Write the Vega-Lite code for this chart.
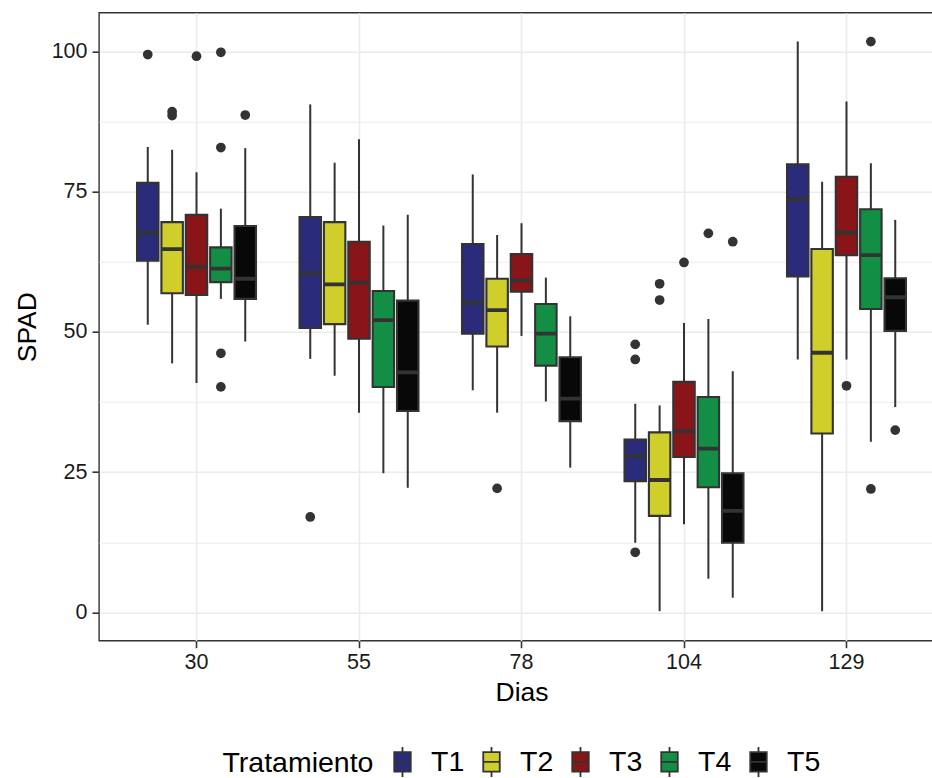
{
  "$schema": "https://vega.github.io/schema/vega-lite/v6.json",
  "width": 845,
  "height": 628,
  "autosize": {"type": "none"},
  "padding": {"left": 99, "top": 12.7, "right": 0, "bottom": 137},
  "background": "white",
  "config": {
    "font": "Liberation Sans",
    "view": {"stroke": "#333333", "strokeWidth": 1.4},
    "axis": {
      "domain": false,
      "tickColor": "#333333",
      "tickWidth": 1.6,
      "tickSize": 7,
      "labelColor": "#1a1a1a",
      "labelFont": "Liberation Sans",
      "labelFontSize": 21.5,
      "titleFont": "Liberation Sans",
      "titleFontSize": 26.5,
      "titleFontWeight": "normal",
      "titleColor": "#000000",
      "gridColor": "#EBEBEB"
    },
    "legend": {
      "labelFont": "Liberation Sans",
      "titleFont": "Liberation Sans"
    }
  },
  "datasets": {
    "boxes": [
      {"Dias": "30", "Tratamiento": "T1", "lower": 51.3, "q1": 62.7, "median": 67.7, "q3": 76.6, "upper": 83.0},
      {"Dias": "30", "Tratamiento": "T2", "lower": 44.4, "q1": 56.9, "median": 64.8, "q3": 69.6, "upper": 82.5},
      {"Dias": "30", "Tratamiento": "T3", "lower": 40.9, "q1": 56.6, "median": 61.6, "q3": 70.9, "upper": 78.5},
      {"Dias": "30", "Tratamiento": "T4", "lower": 55.9, "q1": 58.9, "median": 61.3, "q3": 65.1, "upper": 72.0},
      {"Dias": "30", "Tratamiento": "T5", "lower": 48.3, "q1": 55.9, "median": 59.5, "q3": 68.9, "upper": 82.8},
      {"Dias": "55", "Tratamiento": "T1", "lower": 45.2, "q1": 50.7, "median": 60.5, "q3": 70.5, "upper": 90.6},
      {"Dias": "55", "Tratamiento": "T2", "lower": 42.2, "q1": 51.4, "median": 58.5, "q3": 69.6, "upper": 80.2},
      {"Dias": "55", "Tratamiento": "T3", "lower": 35.6, "q1": 48.8, "median": 58.8, "q3": 66.1, "upper": 84.4},
      {"Dias": "55", "Tratamiento": "T4", "lower": 24.8, "q1": 40.2, "median": 52.1, "q3": 57.3, "upper": 69.0},
      {"Dias": "55", "Tratamiento": "T5", "lower": 22.2, "q1": 35.9, "median": 42.8, "q3": 55.6, "upper": 70.9},
      {"Dias": "78", "Tratamiento": "T1", "lower": 39.6, "q1": 49.7, "median": 55.2, "q3": 65.7, "upper": 78.1},
      {"Dias": "78", "Tratamiento": "T2", "lower": 35.6, "q1": 47.4, "median": 53.9, "q3": 59.5, "upper": 67.3},
      {"Dias": "78", "Tratamiento": "T3", "lower": 49.3, "q1": 57.2, "median": 59.2, "q3": 63.9, "upper": 69.4},
      {"Dias": "78", "Tratamiento": "T4", "lower": 37.6, "q1": 44.0, "median": 49.7, "q3": 55.0, "upper": 59.7},
      {"Dias": "78", "Tratamiento": "T5", "lower": 25.8, "q1": 34.1, "median": 38.1, "q3": 45.5, "upper": 52.8},
      {"Dias": "104", "Tratamiento": "T1", "lower": 12.4, "q1": 23.4, "median": 27.9, "q3": 30.8, "upper": 37.2},
      {"Dias": "104", "Tratamiento": "T2", "lower": 0.2, "q1": 17.2, "median": 23.6, "q3": 32.1, "upper": 36.9},
      {"Dias": "104", "Tratamiento": "T3", "lower": 15.7, "q1": 27.7, "median": 32.3, "q3": 41.1, "upper": 51.6},
      {"Dias": "104", "Tratamiento": "T4", "lower": 6.0, "q1": 22.3, "median": 29.2, "q3": 38.4, "upper": 52.3},
      {"Dias": "104", "Tratamiento": "T5", "lower": 2.6, "q1": 12.4, "median": 18.1, "q3": 24.8, "upper": 43.0},
      {"Dias": "129", "Tratamiento": "T1", "lower": 45.1, "q1": 59.9, "median": 73.7, "q3": 79.9, "upper": 101.8},
      {"Dias": "129", "Tratamiento": "T2", "lower": 0.2, "q1": 31.9, "median": 46.3, "q3": 64.8, "upper": 76.8},
      {"Dias": "129", "Tratamiento": "T3", "lower": 45.1, "q1": 63.7, "median": 67.7, "q3": 77.7, "upper": 91.1},
      {"Dias": "129", "Tratamiento": "T4", "lower": 30.4, "q1": 54.1, "median": 63.7, "q3": 71.9, "upper": 80.1},
      {"Dias": "129", "Tratamiento": "T5", "lower": 36.6, "q1": 50.2, "median": 56.2, "q3": 59.6, "upper": 70.0}
    ],
    "outliers": [
      {"Dias": "30", "Tratamiento": "T1", "SPAD": 99.5},
      {"Dias": "30", "Tratamiento": "T2", "SPAD": 89.3},
      {"Dias": "30", "Tratamiento": "T2", "SPAD": 88.6},
      {"Dias": "30", "Tratamiento": "T3", "SPAD": 99.2},
      {"Dias": "30", "Tratamiento": "T4", "SPAD": 99.9},
      {"Dias": "30", "Tratamiento": "T4", "SPAD": 82.9},
      {"Dias": "30", "Tratamiento": "T4", "SPAD": 46.2},
      {"Dias": "30", "Tratamiento": "T4", "SPAD": 40.2},
      {"Dias": "30", "Tratamiento": "T5", "SPAD": 88.7},
      {"Dias": "55", "Tratamiento": "T1", "SPAD": 17.0},
      {"Dias": "78", "Tratamiento": "T2", "SPAD": 22.1},
      {"Dias": "104", "Tratamiento": "T1", "SPAD": 47.8},
      {"Dias": "104", "Tratamiento": "T1", "SPAD": 45.1},
      {"Dias": "104", "Tratamiento": "T1", "SPAD": 10.7},
      {"Dias": "104", "Tratamiento": "T2", "SPAD": 58.6},
      {"Dias": "104", "Tratamiento": "T2", "SPAD": 55.7},
      {"Dias": "104", "Tratamiento": "T3", "SPAD": 62.4},
      {"Dias": "104", "Tratamiento": "T4", "SPAD": 67.6},
      {"Dias": "104", "Tratamiento": "T5", "SPAD": 66.1},
      {"Dias": "129", "Tratamiento": "T3", "SPAD": 40.4},
      {"Dias": "129", "Tratamiento": "T4", "SPAD": 101.8},
      {"Dias": "129", "Tratamiento": "T4", "SPAD": 22.0},
      {"Dias": "129", "Tratamiento": "T5", "SPAD": 32.5}
    ]
  },
  "encoding": {
    "x": {
      "field": "Dias",
      "type": "nominal",
      "sort": ["30", "55", "78", "104", "129"],
      "scale": {"paddingInner": 0.25, "paddingOuter": 0.225},
      "axis": {
        "title": "Dias",
        "labelAngle": 0,
        "bandPosition": 0.5,
        "grid": true,
        "gridWidth": 1.6,
        "labelPadding": 4,
        "titlePadding": 6
      }
    },
    "xOffset": {
      "field": "Tratamiento",
      "type": "nominal",
      "sort": ["T1", "T2", "T3", "T4", "T5"],
      "scale": {"paddingInner": 0.12, "paddingOuter": 0.06}
    }
  },
  "layer": [
    {
      "data": {"name": "boxes"},
      "mark": {"type": "rule", "stroke": "#333333", "strokeWidth": 2},
      "encoding": {
        "y": {
          "field": "lower",
          "type": "quantitative",
          "scale": {"domain": [-5.07, 106.96], "nice": false, "zero": false},
          "axis": {
            "title": "SPAD",
            "values": [0, 12.5, 25, 37.5, 50, 62.5, 75, 87.5, 100],
            "labelExpr": "datum.value % 25 === 0 ? datum.label : ''",
            "tickOpacity": {"condition": {"test": "datum.value % 25 !== 0", "value": 0}, "value": 1},
            "gridWidth": {"condition": {"test": "datum.value % 25 !== 0", "value": 1.1}, "value": 1.6},
            "grid": true,
            "labelPadding": 5,
            "titlePadding": 10
          }
        },
        "y2": {"field": "upper"}
      }
    },
    {
      "data": {"name": "boxes"},
      "mark": {"type": "bar", "stroke": "#333333", "strokeWidth": 2.1},
      "encoding": {
        "y": {"field": "q1", "type": "quantitative"},
        "y2": {"field": "q3"},
        "fill": {
          "field": "Tratamiento",
          "type": "nominal",
          "sort": ["T1", "T2", "T3", "T4", "T5"],
          "scale": {"domain": ["T1", "T2", "T3", "T4", "T5"], "range": ["#2B2B7B", "#D0CE2A", "#8A1519", "#138F45", "#080808"]},
          "legend": {
            "title": "Tratamiento",
            "orient": "none",
            "direction": "horizontal",
            "legendX": 123.5,
            "legendY": 733,
            "titleOrient": "left",
            "titleFontSize": 28.5,
            "titleFontWeight": "normal",
            "titleColor": "#000000",
            "titlePadding": 12,
            "titleBaseline": "middle",
            "labelFontSize": 28.5,
            "labelColor": "#000000",
            "labelOffset": 12.5,
            "columnPadding": 11,
            "symbolType": "M-0.55,-0.65H0.55V0.65H-0.55Z M0,-0.65V-1 M0,0.65V1 M-0.55,0H0.55",
            "symbolSize": 900,
            "symbolStrokeColor": "#333333",
            "symbolStrokeWidth": 1.8,
            "symbolOpacity": 1
          }
        }
      }
    },
    {
      "data": {"name": "boxes"},
      "mark": {"type": "bar", "stroke": "#333333", "strokeWidth": 3.8, "fillOpacity": 0},
      "encoding": {
        "y": {"field": "median", "type": "quantitative"},
        "y2": {"field": "median"}
      }
    },
    {
      "data": {"name": "outliers"},
      "mark": {"type": "point", "filled": true, "color": "#333333", "opacity": 1, "size": 95},
      "encoding": {
        "y": {"field": "SPAD", "type": "quantitative"}
      }
    }
  ]
}
